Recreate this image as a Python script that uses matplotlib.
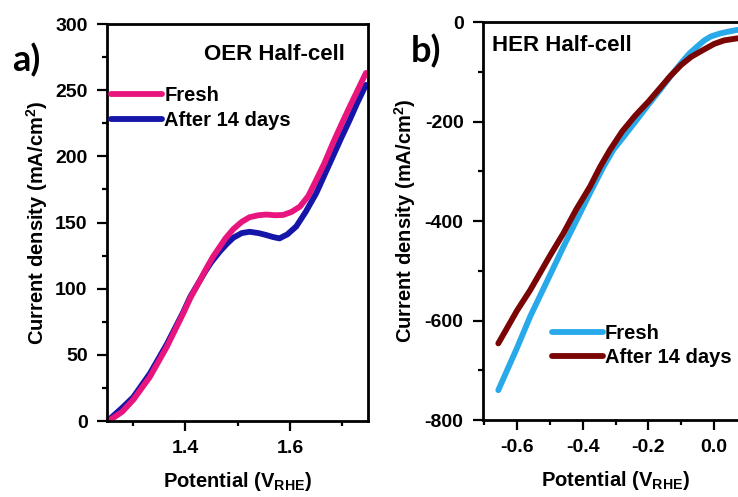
import matplotlib
matplotlib.use("Agg")
import matplotlib.pyplot as plt
from matplotlib.ticker import MultipleLocator

plt.rcParams['font.family'] = ['Liberation Sans', 'DejaVu Sans']
plt.rcParams['font.weight'] = 'bold'
plt.rcParams['axes.unicode_minus'] = False

# OER half-cell (panel a)
oer_v_fresh = [1.257, 1.28, 1.301, 1.333, 1.365, 1.396, 1.41, 1.428, 1.44, 1.453, 1.465, 1.477,
               1.492, 1.508, 1.523, 1.54, 1.555, 1.572, 1.587, 1.603, 1.619, 1.635, 1.650,
               1.666, 1.682, 1.698, 1.714, 1.728, 1.745]
oer_j_fresh = [0.8, 7, 16, 33.5, 56, 81, 93, 106, 115, 124, 131, 138, 145, 150.5, 154, 155.5,
               156, 155.5, 155.7, 158, 162, 170, 182, 195, 210, 224, 237.5, 249, 263]
oer_v_aged = [1.252, 1.28, 1.301, 1.333, 1.365, 1.396, 1.41, 1.428, 1.44, 1.45, 1.466, 1.48,
              1.492, 1.508, 1.523, 1.54, 1.555, 1.568, 1.580, 1.595, 1.612, 1.630, 1.650,
              1.666, 1.682, 1.698, 1.714, 1.728, 1.745]
oer_j_aged = [0, 10, 18, 36, 58, 82, 94, 106, 114, 120, 128, 134, 138.5, 142, 143, 142, 140.5,
              139, 138, 141, 147, 158, 172, 186, 200, 214, 227.5, 240, 254]

# HER half-cell (panel b)
her_v_fresh = [-0.657, -0.60, -0.560, -0.50, -0.459, -0.42, -0.378, -0.337, -0.307, -0.27,
               -0.236, -0.20, -0.165, -0.134, -0.10, -0.075, -0.053, -0.03, -0.01, 0.018,
               0.045, 0.069, 0.10]
her_j_fresh = [-740, -655, -592, -509, -452, -400, -344, -291, -257, -226, -197, -166, -137,
               -110, -82, -63, -50, -37, -29, -23, -19, -16, -15]
her_v_aged = [-0.657, -0.60, -0.560, -0.50, -0.459, -0.42, -0.378, -0.347, -0.317, -0.28,
              -0.24, -0.20, -0.165, -0.134, -0.10, -0.07, -0.033, 0.0, 0.03, 0.069, 0.10]
her_j_aged = [-646, -580, -539, -470, -425, -377, -331, -291, -257, -220, -188, -160, -133,
              -109, -86, -70, -56, -44, -37, -33, -32]

labels = ['Fresh', 'After 14 days']

fig = plt.figure(figsize=(7.38, 4.97), dpi=100)
ax1 = fig.add_axes([0.145, 0.1529, 0.3537, 0.7988])
ax2 = fig.add_axes([0.6545, 0.1549, 0.3577, 0.8008])

leg_kw = dict(frameon=False, handlelength=2.55, handletextpad=0.1, labelspacing=0.28,
              borderaxespad=0, borderpad=0, prop={'weight': 'bold', 'size': 14.5})

ax1.plot(oer_v_aged, oer_j_aged, color='#1515a8', lw=4.2, solid_capstyle='round', label=labels[1])
ax1.plot(oer_v_fresh, oer_j_fresh, color='#e8157f', lw=4.2, solid_capstyle='round', label=labels[0])
ax1.set_xlim(1.251, 1.749)
ax1.set_ylim(0, 300)
ax1.xaxis.set_major_locator(MultipleLocator(0.2))
ax1.xaxis.set_minor_locator(MultipleLocator(0.1))
ax1.yaxis.set_major_locator(MultipleLocator(50))
ax1.yaxis.set_minor_locator(MultipleLocator(25))
h, l = ax1.get_legend_handles_labels()
ax1.legend(h[::-1], l[::-1], loc='center left', bbox_to_anchor=(0.015, 0.788), **leg_kw)
ax1.text(0.912, 0.922, 'OER Half-cell', transform=ax1.transAxes, ha='right', va='center',
         fontsize=16, fontweight='bold')

ax2.plot(her_v_fresh, her_j_fresh, color='#28a9ea', lw=4.2, solid_capstyle='round', label=labels[0])
ax2.plot(her_v_aged, her_j_aged, color='#7a0505', lw=4.2, solid_capstyle='round', label=labels[1])
ax2.set_xlim(-0.7035, 0.10)
ax2.set_ylim(-800, 0)
ax2.xaxis.set_major_locator(MultipleLocator(0.2))
ax2.xaxis.set_minor_locator(MultipleLocator(0.1))
ax2.yaxis.set_major_locator(MultipleLocator(200))
ax2.yaxis.set_minor_locator(MultipleLocator(100))
ax2.legend(loc='center left', bbox_to_anchor=(0.26, 0.187), **leg_kw)
ax2.text(0.034, 0.941, 'HER Half-cell', transform=ax2.transAxes, ha='left', va='center',
         fontsize=16, fontweight='bold')

for ax in (ax1, ax2):
    for s in ax.spines.values():
        s.set_linewidth(2)
    ax.tick_params(which='major', direction='out', length=7, width=1.6, pad=7, labelsize=14)
    ax.tick_params(which='minor', direction='out', length=3.5, width=1.6)
    for t in ax.get_xticklabels() + ax.get_yticklabels():
        t.set_fontweight('bold')
    ax.set_xlabel('Potential (V$_{\\mathregular{RHE}}$)', fontsize=14.5, fontweight='bold', labelpad=9)
    ax.set_ylabel('Current density (mA/cm$^{\\mathregular{2}}$)', fontsize=14.5, fontweight='bold')

ax1.yaxis.set_label_coords(-0.218, 0.5)
ax2.yaxis.set_label_coords(-0.246, 0.5)

fig.text(0.0352, 0.879, 'a)', fontsize=26, fontweight='bold', ha='center', va='center',
         family=['Lato', 'DejaVu Sans'])
fig.text(0.577, 0.897, 'b)', fontsize=26, fontweight='bold', ha='center', va='center',
         family=['Lato', 'DejaVu Sans'])

fig.savefig('out.png', dpi=100)
